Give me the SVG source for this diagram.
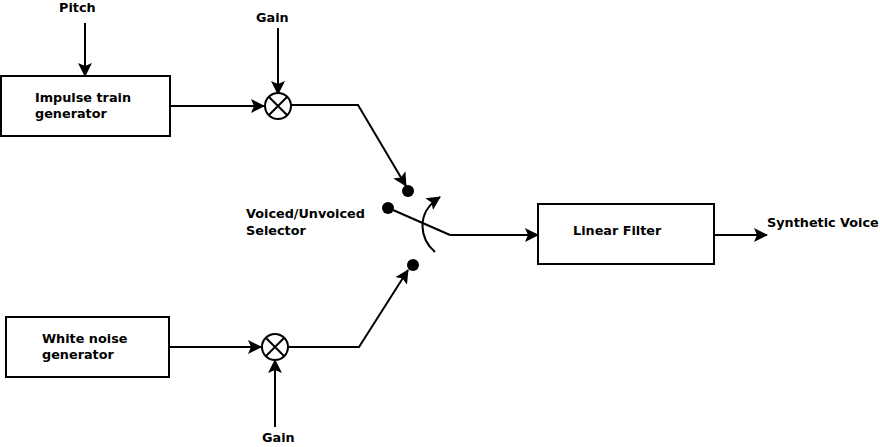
<svg xmlns="http://www.w3.org/2000/svg" width="880" height="447" viewBox="0 0 880 447">
<style>
text{font-family:"DejaVu Sans",sans-serif;font-weight:bold;font-size:12.8px;fill:#000}
.b{fill:#fff;stroke:#000;stroke-width:2}
.l{fill:none;stroke:#000;stroke-width:2}
.a{fill:none;stroke:#000;stroke-width:2;marker-end:url(#h)}
</style>
<defs><marker id="h" markerUnits="userSpaceOnUse" markerWidth="16" markerHeight="16" refX="13" refY="7" orient="auto"><path d="M0 0L14 7L0 14L3 7Z" fill="#000"/></marker></defs>
<rect width="880" height="447" fill="#fff"/>
<g id="connectors">
<path class="a" d="M85 23V76"/>
<path class="a" d="M278 28V94"/>
<path class="a" d="M170 106H264"/>
<path class="a" d="M291 105H358L406 186"/>
<path class="a" d="M170 347H261"/>
<path class="a" d="M275 427V360"/>
<path class="a" d="M288 347H359L408 270"/>
<path class="l" d="M393 210L450 235"/>
<path class="a" d="M450 235H538"/>
<path class="a" d="M714 235H767"/>
<path class="a" d="M435 252C421 240 414 214 440 197"/>
</g>
<g id="pitch"><text x="59" y="12">Pitch</text></g>
<g id="gain-top"><text x="256" y="22">Gain</text></g>
<g id="gain-bottom"><text x="262" y="442">Gain</text></g>
<g id="impulse"><rect class="b" x="1" y="76" width="169" height="60"/><text x="35" y="102">Impulse train</text><text x="35" y="118">generator</text></g>
<g id="noise"><rect class="b" x="6" y="317" width="163" height="60"/><text x="42" y="343">White noise</text><text x="42" y="359">generator</text></g>
<g id="mult-top"><circle class="b" cx="278" cy="106" r="13"/><path class="l" d="M269 97L287 115M287 97L269 115"/></g>
<g id="mult-bottom"><circle class="b" cx="275" cy="347" r="13"/><path class="l" d="M266 338L284 356M284 338L266 356"/></g>
<g id="selector"><circle cx="408" cy="191" r="6"/><circle cx="388" cy="208" r="6"/><circle cx="413" cy="265" r="6"/><text x="246" y="218">Voiced/Unvoiced</text><text x="246" y="235">Selector</text></g>
<g id="filter"><rect class="b" x="538" y="204" width="176" height="60"/><text x="573" y="235">Linear Filter</text></g>
<g id="output"><text x="767" y="227">Synthetic Voice</text></g>
</svg>
